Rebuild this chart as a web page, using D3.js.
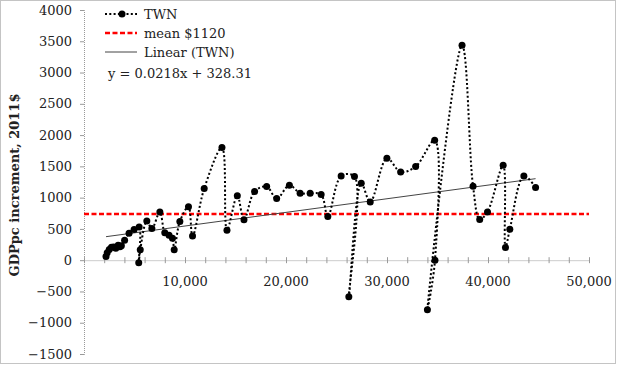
<!DOCTYPE html>
<html>
<head>
<meta charset="utf-8">
<script src="https://cdn.jsdelivr.net/npm/d3@7"></script>
<style>
  body { margin: 0; background: #fff; }
  svg { display: block; }
  text { font-family: "DejaVu Serif", serif; fill: #222; }
</style>
</head>
<body>
<svg width="625" height="365"></svg>
<script>
// GDPpc (2011$) on x, yearly increment on y, in year order
const gdppc = [2180, 2300, 2500, 2720, 2940, 3150, 3380, 3560, 3700, 4020, 4460, 4960, 5460, 5420, 5570,
  6220, 6720, 7510, 8000, 8420, 8760, 8930, 9490, 10345, 10745, 11900, 13660, 14155, 15180, 15840, 16890,
  18085, 19075, 20336, 21396, 22390, 23480, 24140, 25460, 26780, 26220, 27450, 28340, 29990, 31350, 32835,
  34720, 34750, 34000, 37430, 38520, 39180, 39950, 41500, 41730, 42160, 43550, 44710];
const increment = [60, 120, 170, 205, 210, 190, 240, 215, 230, 320, 430, 490, 530, -40, 165,
  625, 505, 770, 440, 400, 350, 165, 620, 855, 385, 1145, 1800, 480, 1030, 645, 1100,
  1177, 985, 1198, 1070, 1070, 1049, 698, 1347, 1337, -586, 1230, 931, 1629, 1410, 1496,
  1916, 0, -794, 3438, 1182, 650, 772, 1517, 203, 495, 1347, 1161];
const meanLineValue = 740;
const trendSlope = 0.0218;
const trendIntercept = 328.31;
const yTicks = [-1500, -1000, -500, 0, 500, 1000, 1500, 2000, 2500, 3000, 3500, 4000];
const xTicks = [10000, 20000, 30000, 40000, 50000];
const legendLabels = ['TWN', 'mean $1120', 'Linear (TWN)'];
const equationText = 'y = 0.0218x + 328.31';

const svg = d3.select('svg');
const x = d3.scaleLinear().domain([0, 50000]).range([84, 589]);
const y = d3.scaleLinear().domain([-1500, 4000]).range([354, 10]);
const points = gdppc.map((g, i) => ({ g, v: increment[i] }));

// outer border
svg.append('rect')
  .attr('x', 0.5).attr('y', 0.5).attr('width', 615).attr('height', 363)
  .attr('fill', 'none').attr('stroke', '#888').attr('stroke-dasharray', '1,1');

// y axis
const yAxis = svg.append('g').attr('transform', `translate(${x(0)},0)`)
  .call(d3.axisLeft(y).tickValues(yTicks).tickSize(4).tickPadding(8).tickFormat(d3.format('d')));
yAxis.select('.domain').attr('stroke', '#999').attr('stroke-dasharray', '1,1');
yAxis.selectAll('.tick line').attr('stroke', '#999');
yAxis.selectAll('text').attr('font-size', 13).attr('font-family', 'DejaVu Serif').attr('fill', '#222');

// x axis at y = 0, minor cross ticks every 2000
const xAxis = svg.append('g').attr('transform', `translate(0,${y(0)})`)
  .call(d3.axisBottom(x).tickValues(d3.range(0, 50001, 2000)).tickSize(0).tickFormat(''));
xAxis.select('.domain').attr('stroke', '#999').attr('stroke-dasharray', '1,1');
xAxis.selectAll('.tick').append('line')
  .attr('y1', -3).attr('y2', 3).attr('stroke', '#999');
svg.append('g').selectAll('text').data(xTicks).enter().append('text')
  .attr('x', d => x(d)).attr('y', 286)
  .attr('text-anchor', 'middle').attr('font-size', 13)
  .text(d => d3.format(',')(d));

// y title
svg.append('text')
  .attr('transform', 'translate(19,185) rotate(-90)')
  .attr('text-anchor', 'middle').attr('font-size', 13).attr('font-weight', 'bold')
  .text('GDPpc increment, 2011$');

// mean line
svg.append('line')
  .attr('x1', x(0)).attr('x2', x(50000)).attr('y1', y(meanLineValue)).attr('y2', y(meanLineValue))
  .attr('stroke', '#ff0000').attr('stroke-width', 2.5).attr('stroke-dasharray', '5,2.5');

// trend line
const gMin = d3.min(gdppc), gMax = d3.max(gdppc);
svg.append('line')
  .attr('x1', x(gMin)).attr('y1', y(trendSlope * gMin + trendIntercept))
  .attr('x2', x(gMax)).attr('y2', y(trendSlope * gMax + trendIntercept))
  .attr('stroke', '#444').attr('stroke-width', 1);

// series
const line = d3.line().x(d => x(d.g)).y(d => y(d.v)).curve(d3.curveCatmullRom.alpha(0.5));
svg.append('path').datum(points)
  .attr('d', line).attr('fill', 'none')
  .attr('stroke', '#000').attr('stroke-width', 2).attr('stroke-dasharray', '2,2.3');
svg.append('g').selectAll('circle').data(points).enter().append('circle')
  .attr('cx', d => x(d.g)).attr('cy', d => y(d.v)).attr('r', 3.5).attr('fill', '#000');

// legend
const legend = svg.append('g');
const rows = legend.selectAll('g').data(legendLabels).enter().append('g')
  .attr('transform', (d, i) => `translate(105,${14 + i * 19})`);
rows.append('line').attr('x1', 0).attr('x2', 32)
  .attr('stroke', (d, i) => ['#000', '#ff0000', '#444'][i])
  .attr('stroke-width', (d, i) => [2, 2.5, 1][i])
  .attr('stroke-dasharray', (d, i) => ['2,2.3', '5,2.5', null][i]);
rows.filter((d, i) => i === 0).append('circle').attr('cx', 17).attr('r', 3.5).attr('fill', '#000');
rows.append('text').attr('x', 39).attr('y', 4.5).attr('font-size', 13).text(d => d);
legend.append('text').attr('x', 108).attr('y', 78).attr('font-size', 13).text(equationText);
</script>
</body>
</html>
